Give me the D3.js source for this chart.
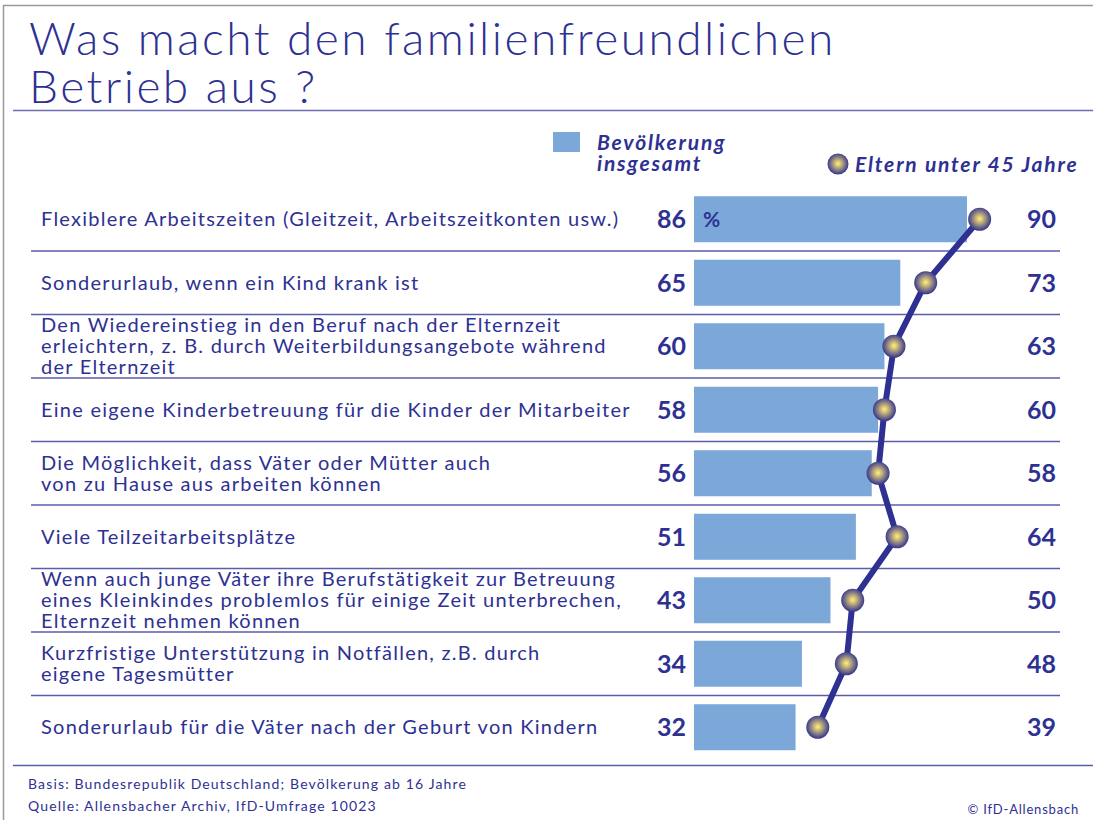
<!DOCTYPE html>
<html>
<head>
<meta charset="utf-8">
<script src="https://cdn.jsdelivr.net/npm/d3@7"></script>
<style>
  body { margin: 0; background: #fff; }
  svg { display: block; }
</style>
</head>
<body>
<script>
// chart data
var labels = [
    ["Flexiblere Arbeitszeiten (Gleitzeit, Arbeitszeitkonten usw.)"],
    ["Sonderurlaub, wenn ein Kind krank ist"],
    ["Den Wiedereinstieg in den Beruf nach der Elternzeit", "erleichtern, z. B. durch Weiterbildungsangebote während", "der Elternzeit"],
    ["Eine eigene Kinderbetreuung für die Kinder der Mitarbeiter"],
    ["Die Möglichkeit, dass Väter oder Mütter auch", "von zu Hause aus arbeiten können"],
    ["Viele Teilzeitarbeitsplätze"],
    ["Wenn auch junge Väter ihre Berufstätigkeit zur Betreuung", "eines Kleinkindes problemlos für einige Zeit unterbrechen,", "Elternzeit nehmen können"],
    ["Kurzfristige Unterstützung in Notfällen, z.B. durch", "eigene Tagesmütter"],
    ["Sonderurlaub für die Väter nach der Geburt von Kindern"]
];
var bevoelkerung = [86, 65, 60, 58, 56, 51, 43, 34, 32];
var eltern = [90, 73, 63, 60, 58, 64, 50, 48, 39];
var seriesNames = ["Bevölkerung", "insgesamt", "Eltern unter 45 Jahre"];
var titleLines = ["Was macht den familienfreundlichen", "Betrieb aus ?"];
var footerLines = ["Basis: Bundesrepublik Deutschland; Bevölkerung ab 16 Jahre", "Quelle: Allensbacher Archiv, IfD-Umfrage 10023"];
var copyright = "© IfD-Allensbach";

window.onload = draw();

function draw() {
    var width = 1093, height = 820;
    var navy = "#2e3192", barColor = "#7ba7d9";
    var font = "Lato, 'Open Sans', sans-serif";

    var svg = d3.select("body").append("svg")
        .attr("width", width)
        .attr("height", height);

    //gradient for the dots
    var grad = svg.append("defs").append("radialGradient")
        .attr("id", "dot")
        .attr("cx", "50%").attr("cy", "48%").attr("r", "50%");
    grad.append("stop").attr("offset", "0%").attr("stop-color", "#fff27a");
    grad.append("stop").attr("offset", "30%").attr("stop-color", "#cdbb7a");
    grad.append("stop").attr("offset", "100%").attr("stop-color", "#3b3b8c");

    //frame
    svg.append("path")
        .attr("d", "M3.5,820 V5.5 H1093")
        .attr("fill", "none")
        .attr("stroke", "#999")
        .attr("stroke-width", 1.5);

    //title
    svg.append("g").selectAll("text")
        .data(titleLines)
        .enter().append("text")
        .attr("x", 29)
        .attr("y", function(d, i) { return 55 + i * 48; })
        .attr("fill", navy)
        .attr("font-family", font)
        .attr("font-weight", 300)
        .attr("font-size", 46)
        .attr("letter-spacing", 2.5)
        .text(function(d) { return d; });

    svg.append("line")
        .attr("x1", 13).attr("x2", width)
        .attr("y1", 110.5).attr("y2", 110.5)
        .attr("stroke", "#6b6db2").attr("stroke-width", 1.5);

    //scales
    var x = d3.scaleLinear().domain([0, 100]).range([694, 1011.4]);
    var y = d3.scaleBand()
        .domain(d3.range(labels.length))
        .range([187.5, 187.5 + 63.5 * labels.length]);

    //row separators
    svg.append("g").selectAll("line")
        .data(d3.range(1, labels.length))
        .enter().append("line")
        .attr("x1", 31).attr("x2", 1060)
        .attr("y1", function(i) { return y(i); })
        .attr("y2", function(i) { return y(i); })
        .attr("stroke", "#5b5da8").attr("stroke-width", 1.5);

    //bars
    svg.append("g").selectAll("rect")
        .data(bevoelkerung)
        .enter().append("rect")
        .attr("x", x(0))
        .attr("y", function(d, i) { return y(i) + y.bandwidth() / 2 - 23; })
        .attr("width", function(d) { return x(d) - x(0); })
        .attr("height", 46)
        .attr("fill", barColor);

    //labels
    var lab = svg.append("g").selectAll("text")
        .data(labels)
        .enter().append("text")
        .attr("fill", navy)
        .attr("font-family", font)
        .attr("font-size", 20)
        .attr("letter-spacing", 1.25);
    lab.each(function(lines, i) {
        var cy = y(i) + y.bandwidth() / 2;
        var top = cy - (lines.length - 1) * 21 / 2;
        d3.select(this).selectAll("tspan")
            .data(lines)
            .enter().append("tspan")
            .attr("x", 41)
            .attr("y", function(d, j) { return top + j * 21; })
            .attr("dy", "0.35em")
            .text(function(d) { return d; });
    });

    //value labels
    svg.append("g").selectAll("text")
        .data(bevoelkerung)
        .enter().append("text")
        .attr("x", 686)
        .attr("y", function(d, i) { return y(i) + y.bandwidth() / 2; })
        .attr("dy", "0.36em")
        .attr("text-anchor", "end")
        .attr("fill", navy)
        .attr("font-family", font)
        .attr("font-weight", 700)
        .attr("font-size", 25)
        .text(function(d) { return d; });

    svg.append("text")
        .attr("x", 703)
        .attr("y", y(0) + y.bandwidth() / 2)
        .attr("dy", "0.36em")
        .attr("fill", navy)
        .attr("font-family", font)
        .attr("font-weight", 700)
        .attr("font-size", 21)
        .text("%");

    svg.append("g").selectAll("text")
        .data(eltern)
        .enter().append("text")
        .attr("x", 1056)
        .attr("y", function(d, i) { return y(i) + y.bandwidth() / 2; })
        .attr("dy", "0.36em")
        .attr("text-anchor", "end")
        .attr("fill", navy)
        .attr("font-family", font)
        .attr("font-weight", 700)
        .attr("font-size", 25)
        .text(function(d) { return d; });

    //line for parents
    var line = d3.line()
        .x(function(d) { return x(d); })
        .y(function(d, i) { return y(i) + y.bandwidth() / 2; });
    svg.append("path")
        .datum(eltern)
        .attr("d", line)
        .attr("fill", "none")
        .attr("stroke", navy)
        .attr("stroke-width", 6);

    svg.append("g").selectAll("circle")
        .data(eltern)
        .enter().append("circle")
        .attr("cx", function(d) { return x(d); })
        .attr("cy", function(d, i) { return y(i) + y.bandwidth() / 2; })
        .attr("r", 11.5)
        .attr("fill", "url(#dot)");

    //legend
    svg.append("rect")
        .attr("x", 553).attr("y", 132)
        .attr("width", 27).attr("height", 20)
        .attr("fill", barColor);
    svg.append("g").selectAll("text")
        .data(seriesNames.slice(0, 2))
        .enter().append("text")
        .attr("x", 597)
        .attr("y", function(d, i) { return 150 + i * 21; })
        .attr("fill", navy)
        .attr("font-family", font)
        .attr("font-weight", 700)
        .attr("font-style", "italic")
        .attr("font-size", 21)
        .attr("letter-spacing", 1.8)
        .text(function(d) { return d; });
    svg.append("circle")
        .attr("cx", 838).attr("cy", 164)
        .attr("r", 10.5)
        .attr("fill", "url(#dot)");
    svg.append("text")
        .attr("x", 855).attr("y", 172)
        .attr("fill", navy)
        .attr("font-family", font)
        .attr("font-weight", 700)
        .attr("font-style", "italic")
        .attr("font-size", 21)
        .attr("letter-spacing", 1.8)
        .text(seriesNames[2]);

    //footer
    svg.append("line")
        .attr("x1", 13).attr("x2", width)
        .attr("y1", 765.5).attr("y2", 765.5)
        .attr("stroke", "#5b5da8").attr("stroke-width", 1.5);
    svg.append("g").selectAll("text")
        .data(footerLines)
        .enter().append("text")
        .attr("x", 28)
        .attr("y", function(d, i) { return 789 + i * 22; })
        .attr("fill", navy)
        .attr("font-family", font)
        .attr("font-size", 14)
        .attr("letter-spacing", 1.15)
        .text(function(d) { return d; });
    svg.append("text")
        .attr("x", 1079).attr("y", 814)
        .attr("text-anchor", "end")
        .attr("fill", navy)
        .attr("font-family", font)
        .attr("font-size", 13)
        .attr("letter-spacing", 0.8)
        .text(copyright);
}
</script>
</body>
</html>
